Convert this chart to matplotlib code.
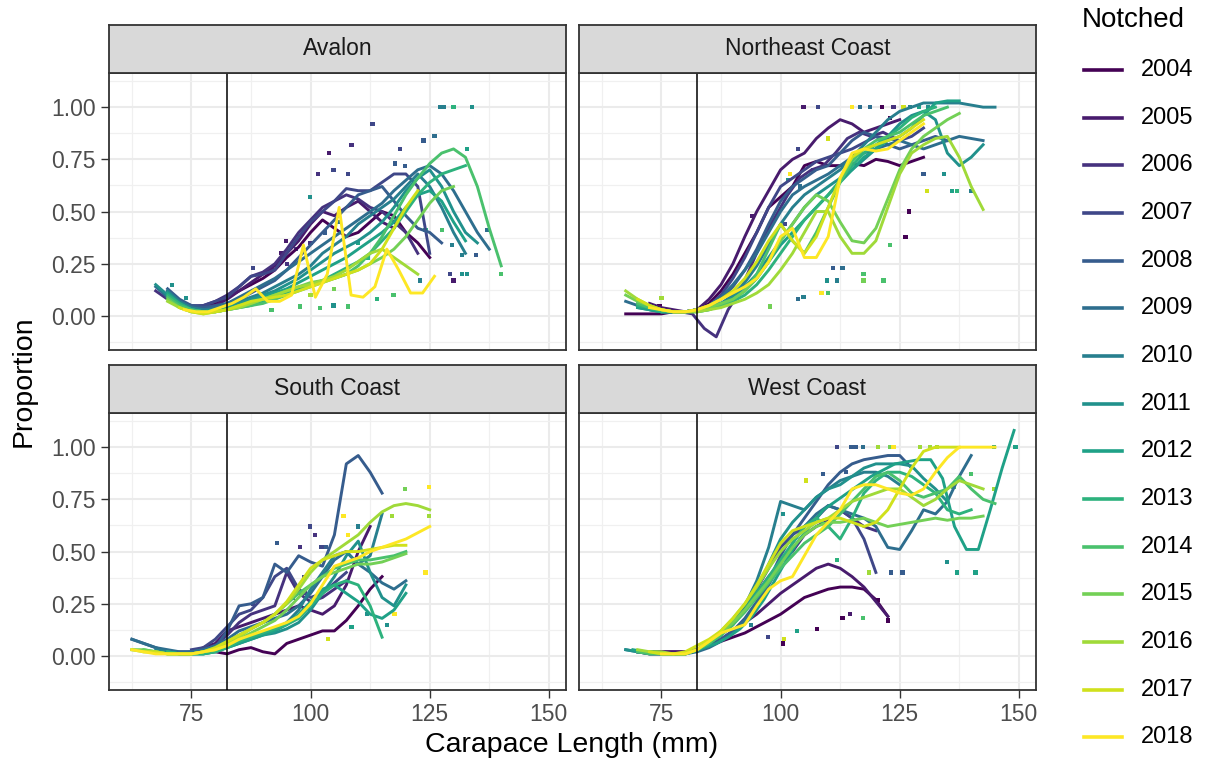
import numpy as np
import matplotlib
matplotlib.use("Agg")
import matplotlib.pyplot as plt
from matplotlib.lines import Line2D

plt.rcParams['font.family'] = ['Liberation Sans', 'DejaVu Sans']

years = list(range(2004, 2019))
legal_size = 82.5
step = 2.5  # mm between smoothed values

# ---- Avalon ----
avalon_start = [72.5, 70, 67.5, 70, 70, 67.5, 70, 67.5, 70, 70, 70, 70, 70, 72.5, 73.5]
avalon_vals = [
    [0.06, 0.04, 0.04, 0.06, 0.09, 0.12, 0.15, 0.18, 0.22, 0.28, 0.33, 0.40, 0.46, 0.42, 0.38, 0.40, 0.45, 0.50, 0.48, 0.40, 0.35, 0.28],
    [0.10, 0.06, 0.04, 0.04, 0.05, 0.08, 0.12, 0.16, 0.20, 0.24, 0.30, 0.36, 0.44, 0.50, 0.48, 0.52, 0.55, 0.50, 0.45, 0.42],
    [0.12, 0.08, 0.05, 0.04, 0.05, 0.07, 0.10, 0.14, 0.19, 0.21, 0.25, 0.32, 0.40, 0.46, 0.52, 0.55, 0.58, 0.56, 0.52, 0.50, 0.45, 0.40, 0.30],
    [0.12, 0.07, 0.05, 0.05, 0.07, 0.09, 0.14, 0.19, 0.20, 0.22, 0.30, 0.38, 0.45, 0.50, 0.55, 0.61, 0.60, 0.60, 0.64, 0.68, 0.68, 0.62, 0.30],
    [0.13, 0.08, 0.05, 0.04, 0.05, 0.06, 0.08, 0.11, 0.14, 0.17, 0.22, 0.28, 0.34, 0.40, 0.46, 0.52, 0.58, 0.60, 0.62, 0.55, 0.48, 0.42, 0.40, 0.35],
    [0.14, 0.09, 0.05, 0.03, 0.03, 0.04, 0.06, 0.09, 0.12, 0.15, 0.18, 0.22, 0.26, 0.30, 0.34, 0.38, 0.42, 0.46, 0.50, 0.54, 0.60, 0.65, 0.70, 0.72, 0.68, 0.60, 0.50, 0.40, 0.32],
    [0.12, 0.07, 0.04, 0.03, 0.03, 0.05, 0.07, 0.09, 0.11, 0.14, 0.17, 0.20, 0.24, 0.30, 0.34, 0.38, 0.44, 0.48, 0.52, 0.56, 0.62, 0.68, 0.62, 0.52, 0.40, 0.30],
    [0.15, 0.10, 0.06, 0.03, 0.02, 0.03, 0.04, 0.06, 0.08, 0.10, 0.12, 0.15, 0.18, 0.22, 0.26, 0.30, 0.33, 0.36, 0.40, 0.45, 0.52, 0.60, 0.66, 0.70, 0.62, 0.50, 0.40, 0.35],
    [0.11, 0.06, 0.03, 0.02, 0.03, 0.04, 0.05, 0.07, 0.09, 0.11, 0.13, 0.16, 0.19, 0.22, 0.25, 0.28, 0.32, 0.36, 0.40, 0.45, 0.52, 0.58, 0.60, 0.55, 0.45, 0.36],
    [0.10, 0.06, 0.03, 0.02, 0.02, 0.03, 0.04, 0.05, 0.07, 0.09, 0.11, 0.13, 0.15, 0.17, 0.20, 0.23, 0.26, 0.30, 0.36, 0.42, 0.50, 0.58, 0.64, 0.68, 0.70, 0.72],
    [0.09, 0.05, 0.03, 0.02, 0.02, 0.03, 0.04, 0.05, 0.06, 0.08, 0.10, 0.12, 0.14, 0.16, 0.18, 0.20, 0.24, 0.30, 0.38, 0.48, 0.58, 0.66, 0.73, 0.78, 0.80, 0.76, 0.62, 0.42, 0.24],
    [0.08, 0.04, 0.02, 0.02, 0.02, 0.03, 0.05, 0.06, 0.08, 0.10, 0.12, 0.14, 0.16, 0.17, 0.18, 0.20, 0.22, 0.25, 0.28, 0.32, 0.38, 0.46, 0.54, 0.60, 0.62],
    [0.07, 0.04, 0.02, 0.01, 0.02, 0.03, 0.04, 0.06, 0.08, 0.10, 0.12, 0.14, 0.15, 0.17, 0.19, 0.22, 0.26, 0.30, 0.32, 0.28, 0.24, 0.20],
    [0.04, 0.02, 0.01, 0.02, 0.03, 0.05, 0.07, 0.08, 0.09, 0.10, 0.12, 0.14, 0.16, 0.18, 0.20, 0.22, 0.25, 0.32, 0.42, 0.52, 0.60],
    [0.03, 0.02, 0.02, 0.04, 0.06, 0.09, 0.13, 0.07, 0.07, 0.10, 0.34, 0.09, 0.20, 0.52, 0.10, 0.09, 0.14, 0.32, 0.22, 0.11, 0.11, 0.19],
]
avalon_pts_x = [127.2, 128.0, 130.0, 133.9, 113.0, 103.9, 108.6, 126.0, 123.7, 118.8, 132.8, 101.6, 104.8, 107.8, 117.7,
                119.8, 99.8, 94.9, 93.9, 87.9, 91.8, 137.1, 134.8, 131.8, 129.7, 127.6, 124.1, 129.2, 130.0, 131.8, 132.8,
                139.9, 123.0, 117.4, 113.9, 107.9, 104.8, 102.0, 97.7, 91.8, 73.9, 70.9, 95.0, 97.0, 100.0, 103.0, 106.0,
                110.0, 112.0, 96.0, 100.0, 105.0, 88.0, 85.0]
avalon_pts_y = [1.0, 1.0, 1.0, 1.0, 0.92, 0.78, 0.82, 0.86, 0.84, 0.80, 0.80, 0.68, 0.70, 0.68, 0.73,
                0.72, 0.57, 0.36, 0.30, 0.23, 0.22, 0.41, 0.29, 0.29, 0.34, 0.41, 0.41, 0.20, 0.17, 0.20, 0.20,
                0.20, 0.17, 0.10, 0.08, 0.045, 0.05, 0.04, 0.045, 0.03, 0.085, 0.15, 0.25, 0.32, 0.35, 0.40, 0.45,
                0.35, 0.28, 0.12, 0.10, 0.13, 0.08, 0.07]
avalon_pts_year = [2010, 2010, 2013, 2011, 2007, 2005, 2006, 2009, 2008, 2007, 2012, 2006, 2007, 2007, 2008,
                   2008, 2011, 2005, 2005, 2007, 2007, 2009, 2008, 2010, 2010, 2014, 2013, 2007, 2005, 2011, 2011,
                   2014, 2010, 2014, 2013, 2014, 2011, 2014, 2014, 2014, 2011, 2011, 2006, 2007, 2006, 2008, 2009,
                   2012, 2013, 2015, 2016, 2015, 2012, 2013]

# ---- Northeast Coast ----
ne_start = [67.5, 72.5, 79, 70, 70, 67.5, 70, 70, 70, 70, 70, 67.5, 67.5, 70, 72.5]
ne_vals = [
    [0.01, 0.01, 0.01, 0.01, 0.02, 0.02, 0.03, 0.06, 0.12, 0.20, 0.30, 0.40, 0.52, 0.57, 0.62, 0.72, 0.74, 0.72, 0.72, 0.73, 0.72, 0.75, 0.74, 0.72, 0.74, 0.76],
    [0.06, 0.04, 0.03, 0.02, 0.03, 0.08, 0.15, 0.25, 0.38, 0.50, 0.60, 0.70, 0.75, 0.78, 0.85, 0.90, 0.94, 0.92, 0.88, 0.90, 0.92, 0.94],
    [0.02, 0.01, -0.06, -0.10, 0.03, 0.12, 0.25, 0.38, 0.48, 0.58, 0.66, 0.70, 0.72, 0.78, 0.85, 0.88, 0.86, 0.88, 0.85],
    [0.05, 0.04, 0.02, 0.02, 0.02, 0.03, 0.05, 0.10, 0.18, 0.28, 0.40, 0.52, 0.62, 0.66, 0.70, 0.74, 0.76, 0.78, 0.80, 0.83, 0.86, 0.85, 0.84, 0.86, 0.90],
    [0.06, 0.04, 0.03, 0.02, 0.02, 0.03, 0.04, 0.08, 0.14, 0.22, 0.32, 0.44, 0.55, 0.62, 0.66, 0.70, 0.72, 0.78, 0.84, 0.88, 0.86, 0.82, 0.80, 0.82, 0.84, 0.86, 0.84],
    [0.07, 0.05, 0.03, 0.02, 0.02, 0.02, 0.03, 0.05, 0.09, 0.15, 0.22, 0.30, 0.40, 0.50, 0.58, 0.62, 0.65, 0.68, 0.72, 0.76, 0.78, 0.80, 0.82, 0.84, 0.82, 0.80, 0.82, 0.84, 0.86, 0.85, 0.84],
    [0.05, 0.04, 0.02, 0.02, 0.02, 0.03, 0.04, 0.06, 0.10, 0.16, 0.24, 0.34, 0.44, 0.52, 0.58, 0.62, 0.66, 0.70, 0.76, 0.82, 0.88, 0.94, 0.98, 1.00, 1.02, 1.02, 1.02, 1.02, 1.01, 1.00, 1.00],
    [0.04, 0.03, 0.02, 0.02, 0.02, 0.03, 0.04, 0.06, 0.09, 0.14, 0.20, 0.28, 0.36, 0.44, 0.52, 0.58, 0.62, 0.66, 0.70, 0.75, 0.80, 0.86, 0.92, 0.96, 0.98, 0.94, 0.78, 0.72, 0.76, 0.82],
    [0.04, 0.03, 0.02, 0.02, 0.02, 0.03, 0.04, 0.05, 0.08, 0.12, 0.18, 0.26, 0.34, 0.40, 0.46, 0.52, 0.58, 0.64, 0.70, 0.76, 0.80, 0.84, 0.86, 0.90, 0.96, 1.02, 1.03, 1.03],
    [0.05, 0.04, 0.02, 0.02, 0.02, 0.02, 0.03, 0.05, 0.07, 0.10, 0.15, 0.22, 0.30, 0.38, 0.46, 0.52, 0.58, 0.65, 0.72, 0.78, 0.82, 0.86, 0.90, 0.95, 0.98, 1.00],
    [0.06, 0.04, 0.03, 0.02, 0.02, 0.02, 0.03, 0.05, 0.08, 0.12, 0.20, 0.32, 0.44, 0.36, 0.30, 0.40, 0.52, 0.64, 0.74, 0.80, 0.84, 0.86, 0.88, 0.92, 0.96, 0.98, 1.00],
    [0.10, 0.07, 0.05, 0.03, 0.02, 0.02, 0.03, 0.04, 0.06, 0.08, 0.12, 0.18, 0.26, 0.36, 0.44, 0.52, 0.58, 0.55, 0.45, 0.36, 0.35, 0.42, 0.56, 0.70, 0.80, 0.86, 0.90, 0.94, 0.97],
    [0.12, 0.08, 0.05, 0.03, 0.02, 0.02, 0.02, 0.03, 0.04, 0.06, 0.08, 0.11, 0.15, 0.22, 0.30, 0.40, 0.50, 0.50, 0.38, 0.30, 0.30, 0.36, 0.52, 0.68, 0.78, 0.82, 0.85, 0.86, 0.76, 0.62, 0.51],
    [0.08, 0.05, 0.03, 0.02, 0.02, 0.03, 0.05, 0.08, 0.12, 0.18, 0.26, 0.36, 0.44, 0.36, 0.30, 0.38, 0.52, 0.66, 0.76, 0.80, 0.82, 0.84, 0.86, 0.90, 0.94],
    [0.04, 0.03, 0.02, 0.02, 0.03, 0.05, 0.08, 0.11, 0.14, 0.18, 0.26, 0.38, 0.42, 0.28, 0.28, 0.38, 0.66, 0.78, 0.80, 0.79, 0.80, 0.84, 0.88, 0.92],
]
ne_pts_x = [104.8, 107.9, 115.0, 116.6, 118.8, 121.2, 123.7, 125.8, 127.2, 129.0, 131.0,
            123.0, 103.7, 110.0, 106.9, 104.1, 102.0, 101.6, 94.1, 100.9,
            126.9, 126.2, 123.0, 136.0, 137.0, 139.9, 130.7, 134.3, 130.0,
            111.0, 113.0, 109.7, 111.8, 117.4, 117.4, 121.6,
            108.6, 110.0, 103.7, 104.8, 97.7, 74.6, 75.0]
ne_pts_y = [1, 1, 1, 1, 1, 1, 1, 1, 1, 1, 1,
            0.95, 0.80, 0.85, 0.70, 0.62, 0.68, 0.65, 0.48, 0.44,
            0.50, 0.38, 0.34, 0.60, 0.60, 0.60, 0.60, 0.68, 0.68,
            0.23, 0.23, 0.17, 0.17, 0.20, 0.17, 0.17,
            0.11, 0.11, 0.08, 0.09, 0.045, 0.045, 0.085]
ne_pts_year = [2005, 2007, 2018, 2009, 2009, 2004, 2006, 2017, 2010, 2012, 2011,
               2004, 2007, 2017, 2010, 2009, 2018, 2011, 2005, 2007,
               2004, 2004, 2014, 2012, 2013, 2010, 2017, 2011, 2008,
               2008, 2009, 2011, 2010, 2014, 2015, 2014,
               2018, 2014, 2009, 2010, 2015, 2004, 2016]

# ---- South Coast ----
south_start = [80, 77.5, 72.5, 75, 62.5, 62.5, 67.5, 67.5, 70, 70, 65, 62.5, 62.5, 65, 62.5]
south_vals = [
    [0.02, 0.01, 0.03, 0.04, 0.02, 0.01, 0.06, 0.08, 0.10, 0.12, 0.12, 0.17, 0.24, 0.32, 0.38],
    [0.04, 0.06, 0.12, 0.14, 0.16, 0.18, 0.20, 0.22, 0.24, 0.22, 0.20, 0.24, 0.34, 0.50, 0.62],
    [0.02, 0.02, 0.03, 0.05, 0.10, 0.16, 0.20, 0.22, 0.24, 0.40, 0.30, 0.26, 0.28, 0.32, 0.36],
    [0.03, 0.04, 0.08, 0.14, 0.20, 0.22, 0.28, 0.38, 0.42, 0.32, 0.28, 0.30, 0.35, 0.40],
    [0.08, 0.06, 0.04, 0.02, 0.01, 0.02, 0.03, 0.04, 0.12, 0.24, 0.25, 0.28, 0.44, 0.40, 0.48, 0.45, 0.43, 0.58, 0.92, 0.96, 0.88, 0.78],
    [0.08, 0.06, 0.04, 0.03, 0.02, 0.02, 0.03, 0.05, 0.08, 0.12, 0.14, 0.16, 0.18, 0.20, 0.24, 0.30, 0.38, 0.46, 0.50, 0.44, 0.40, 0.35, 0.32, 0.36],
    [0.03, 0.02, 0.01, 0.01, 0.02, 0.03, 0.05, 0.07, 0.09, 0.11, 0.13, 0.16, 0.22, 0.32, 0.40, 0.48, 0.50, 0.44, 0.48, 0.68],
    [0.02, 0.02, 0.01, 0.01, 0.01, 0.02, 0.04, 0.06, 0.08, 0.10, 0.11, 0.13, 0.16, 0.22, 0.30, 0.38, 0.48, 0.55, 0.40, 0.28, 0.24, 0.34],
    [0.02, 0.01, 0.01, 0.01, 0.02, 0.04, 0.06, 0.08, 0.10, 0.12, 0.15, 0.20, 0.26, 0.32, 0.34, 0.30, 0.26, 0.20, 0.18, 0.22, 0.30],
    [0.02, 0.01, 0.01, 0.01, 0.02, 0.04, 0.07, 0.09, 0.11, 0.13, 0.15, 0.18, 0.24, 0.30, 0.34, 0.36, 0.34, 0.24, 0.09],
    [0.03, 0.02, 0.01, 0.01, 0.01, 0.02, 0.04, 0.07, 0.10, 0.13, 0.16, 0.20, 0.25, 0.30, 0.34, 0.38, 0.42, 0.44, 0.46, 0.46, 0.47, 0.48, 0.50],
    [0.03, 0.03, 0.02, 0.01, 0.01, 0.01, 0.02, 0.03, 0.05, 0.08, 0.11, 0.14, 0.17, 0.22, 0.28, 0.34, 0.38, 0.40, 0.42, 0.44, 0.44, 0.45, 0.47, 0.49],
    [0.03, 0.02, 0.02, 0.01, 0.01, 0.01, 0.02, 0.03, 0.06, 0.09, 0.13, 0.16, 0.20, 0.25, 0.32, 0.40, 0.46, 0.50, 0.54, 0.58, 0.64, 0.69, 0.72, 0.73, 0.72, 0.70],
    [0.02, 0.02, 0.01, 0.01, 0.01, 0.02, 0.04, 0.07, 0.10, 0.13, 0.16, 0.20, 0.26, 0.34, 0.42, 0.46, 0.48, 0.50, 0.50, 0.51, 0.52, 0.53, 0.53],
    [0.03, 0.02, 0.01, 0.01, 0.01, 0.01, 0.02, 0.03, 0.05, 0.08, 0.10, 0.12, 0.14, 0.16, 0.19, 0.25, 0.34, 0.43, 0.45, 0.47, 0.50, 0.52, 0.54, 0.56, 0.59, 0.62],
]
south_pts_x = [99.8, 100.9, 93.0, 88.0, 97.7, 102.3, 103.3, 110.0, 106.9, 107.9, 117.1, 119.9, 124.8, 124.8,
               124.1, 117.6, 111.8, 116.0, 108.6, 103.7, 98.6, 98.8, 96.3]
south_pts_y = [0.62, 0.58, 0.54, 0.25, 0.52, 0.52, 0.52, 0.62, 0.67, 0.58, 0.67, 0.80, 0.81, 0.67,
               0.40, 0.20, 0.20, 0.15, 0.14, 0.08, 0.38, 0.30, 0.28]
south_pts_year = [2007, 2006, 2008, 2007, 2006, 2007, 2008, 2010, 2018, 2018, 2016, 2015, 2018, 2016,
                  2018, 2018, 2011, 2011, 2012, 2017, 2007, 2006, 2008]

# ---- West Coast ----
west_start = [70, 72.5, 70, 70, 70, 70, 67.5, 67.5, 69, 70, 70, 72.5, 70, 72.5, 75]
west_vals = [
    [0.02, 0.02, 0.02, 0.02, 0.02, 0.03, 0.05, 0.07, 0.09, 0.11, 0.14, 0.17, 0.20, 0.24, 0.28, 0.30, 0.32, 0.33, 0.33, 0.32, 0.27, 0.19],
    [0.02, 0.02, 0.02, 0.02, 0.03, 0.05, 0.08, 0.12, 0.16, 0.20, 0.25, 0.30, 0.34, 0.38, 0.42, 0.44, 0.42, 0.38, 0.33, 0.26, 0.19],
    [0.02, 0.02, 0.01, 0.01, 0.01, 0.03, 0.06, 0.10, 0.15, 0.22, 0.30, 0.38, 0.45, 0.50, 0.58, 0.62, 0.65, 0.70, 0.66, 0.62, 0.60],
    [0.02, 0.01, 0.01, 0.01, 0.01, 0.03, 0.06, 0.10, 0.16, 0.24, 0.32, 0.42, 0.52, 0.58, 0.62, 0.66, 0.72, 0.70, 0.66, 0.56, 0.40],
    [0.02, 0.01, 0.01, 0.01, 0.01, 0.03, 0.05, 0.08, 0.12, 0.18, 0.26, 0.36, 0.48, 0.58, 0.66, 0.74, 0.82, 0.88, 0.92, 0.94, 0.95, 0.96, 0.96, 0.90],
    [0.02, 0.01, 0.01, 0.01, 0.01, 0.02, 0.04, 0.07, 0.11, 0.17, 0.25, 0.34, 0.44, 0.54, 0.62, 0.68, 0.72, 0.70, 0.68, 0.66, 0.62, 0.52, 0.51, 0.60, 0.70, 0.68, 0.74, 0.86, 0.96],
    [0.03, 0.02, 0.02, 0.01, 0.01, 0.01, 0.03, 0.06, 0.10, 0.16, 0.24, 0.36, 0.52, 0.74, 0.72, 0.70, 0.76, 0.80, 0.84, 0.86, 0.88, 0.88, 0.86, 0.82],
    [0.03, 0.02, 0.02, 0.01, 0.01, 0.01, 0.03, 0.06, 0.10, 0.15, 0.22, 0.32, 0.44, 0.56, 0.64, 0.70, 0.76, 0.80, 0.82, 0.86, 0.90, 0.92, 0.92, 0.92, 0.91, 0.85, 0.80, 0.74],
    [0.03, 0.02, 0.02, 0.01, 0.01, 0.02, 0.04, 0.06, 0.09, 0.13, 0.19, 0.27, 0.37, 0.47, 0.56, 0.63, 0.70, 0.74, 0.78, 0.82, 0.86, 0.89, 0.92, 0.93, 0.94, 0.94, 0.85, 0.62, 0.51, 0.51, 0.70, 0.90, 1.08],
    [0.02, 0.02, 0.01, 0.01, 0.01, 0.03, 0.06, 0.10, 0.16, 0.22, 0.30, 0.38, 0.46, 0.54, 0.62, 0.66, 0.62, 0.56, 0.66, 0.78, 0.84, 0.88, 0.88, 0.86, 0.82, 0.78, 0.70, 0.68, 0.70],
    [0.02, 0.01, 0.01, 0.01, 0.01, 0.03, 0.06, 0.10, 0.15, 0.21, 0.28, 0.35, 0.42, 0.48, 0.54, 0.58, 0.62, 0.68, 0.74, 0.80, 0.86, 0.88, 0.84, 0.78, 0.76, 0.78, 0.80, 0.86, 0.80, 0.75, 0.73],
    [0.02, 0.01, 0.01, 0.01, 0.03, 0.07, 0.11, 0.16, 0.22, 0.29, 0.36, 0.44, 0.52, 0.58, 0.62, 0.64, 0.64, 0.65, 0.66, 0.64, 0.62, 0.63, 0.64, 0.65, 0.66, 0.65, 0.66, 0.66, 0.67],
    [0.03, 0.02, 0.02, 0.01, 0.01, 0.03, 0.07, 0.12, 0.18, 0.25, 0.33, 0.42, 0.50, 0.56, 0.60, 0.64, 0.66, 0.70, 0.74, 0.76, 0.78, 0.80, 0.80, 0.76, 0.72, 0.75, 0.80, 0.84, 0.82, 0.80],
    [0.02, 0.01, 0.01, 0.02, 0.05, 0.08, 0.12, 0.18, 0.25, 0.34, 0.44, 0.54, 0.60, 0.62, 0.64, 0.66, 0.66, 0.64, 0.62, 0.64, 0.70, 0.80, 0.90, 0.98, 1.00, 1.00, 1.00],
    [0.01, 0.01, 0.01, 0.03, 0.07, 0.11, 0.13, 0.15, 0.24, 0.32, 0.36, 0.38, 0.48, 0.58, 0.64, 0.70, 0.80, 0.82, 0.82, 0.80, 0.78, 0.77, 0.80, 0.88, 0.95, 1.00, 1.00, 1.00, 1.00],
]
west_pts_x = [111.8, 114.9, 115.9, 117.3, 120.5, 123.0, 123.7, 129.3, 131.4, 132.8, 144.7, 149.3,
              134.9, 137.0, 140.9, 123.2, 125.6, 120.4, 122.5, 117.3, 113.0, 114.6,
              107.7, 103.5, 100.5, 100.8, 97.4, 93.8,
              105.4, 108.9, 113.8, 119.8, 139.9, 144.7, 136.3, 118.6, 111.8, 100.5]
west_pts_y = [1, 1, 1, 1, 1, 1, 1, 1, 1, 1, 1, 1,
              0.45, 0.40, 0.40, 0.40, 0.40, 0.27, 0.17, 0.18, 0.18, 0.20,
              0.13, 0.12, 0.06, 0.08, 0.09, 0.15,
              0.84, 0.87, 0.88, 0.87, 0.87, 0.80, 0.81, 0.40, 0.46, 0.68]
west_pts_year = [2007, 2008, 2008, 2009, 2016, 2015, 2018, 2016, 2016, 2016, 2012, 2012,
                 2011, 2012, 2012, 2008, 2008, 2004, 2004, 2014, 2004, 2005,
                 2004, 2012, 2004, 2017, 2007, 2010,
                 2017, 2008, 2008, 2013, 2014, 2016, 2014, 2016, 2013, 2011]

panels = [
    ('Avalon', avalon_start, avalon_vals, avalon_pts_x, avalon_pts_y, avalon_pts_year),
    ('Northeast Coast', ne_start, ne_vals, ne_pts_x, ne_pts_y, ne_pts_year),
    ('South Coast', south_start, south_vals, south_pts_x, south_pts_y, south_pts_year),
    ('West Coast', west_start, west_vals, west_pts_x, west_pts_y, west_pts_year),
]

colors = dict(zip(years, plt.cm.viridis(np.linspace(0, 1, len(years)))))

W, H = 1207, 770
fig = plt.figure(figsize=(W / 100, H / 100), dpi=100)

pw, ph, sh = 457, 277.5, 47.5
lefts = [109, 579]
tops = [72.5, 412.5]

for k, (name, starts, vals, px, py, pyear) in enumerate(panels):
    row, colm = divmod(k, 2)
    l, t = lefts[colm], tops[row]
    ax = fig.add_axes([l / W, 1 - (t + ph) / H, pw / W, ph / H])
    ax.set_xlim(57.7, 153.6)
    ax.set_ylim(-0.163, 1.166)
    ax.set_xticks([75, 100, 125, 150])
    ax.set_xticks([62.5, 87.5, 112.5, 137.5], minor=True)
    ax.set_yticks([0, 0.25, 0.5, 0.75, 1.0])
    ax.set_yticklabels(['0.00', '0.25', '0.50', '0.75', '1.00'])
    ax.set_yticks([-0.125, 0.125, 0.375, 0.625, 0.875, 1.125], minor=True)
    ax.grid(which='major', color='#ebebeb', lw=1.5)
    ax.grid(which='minor', color='#f0f0f0', lw=0.9)
    ax.set_axisbelow(True)
    ax.tick_params(which='minor', length=0)
    ax.tick_params(which='major', length=5.5, width=1.0, color='#333333',
                   labelsize=16.5, labelcolor='#4d4d4d', pad=4)
    if colm == 1:
        ax.tick_params(axis='y', left=False, labelleft=False)
    if row == 0:
        ax.tick_params(axis='x', bottom=False, labelbottom=False)
    for s in ax.spines.values():
        s.set_color('#333333')
        s.set_linewidth(1.3)

    ax.scatter(px, py, c=[colors[y] for y in pyear], marker='s', s=9, linewidths=0, zorder=2)
    for yr, x0, v in zip(years, starts, vals):
        xs = [x0 + step * i for i in range(len(v))]
        ax.plot(xs, v, color=colors[yr], lw=2.1, zorder=3)
    ax.axvline(legal_size, color='black', lw=1.1, zorder=4)

    sa = fig.add_axes([l / W, 1 - t / H, pw / W, sh / H])
    sa.set_facecolor('#d9d9d9')
    sa.set_xticks([])
    sa.set_yticks([])
    for s in sa.spines.values():
        s.set_color('#333333')
        s.set_linewidth(1.3)
    sa.text(0.5, 0.5, name, ha='center', va='center', fontsize=16.5, color='#1a1a1a',
            transform=sa.transAxes)

fig.text(572 / W, 1 - 745 / H, 'Carapace Length (mm)', ha='center', va='center', fontsize=20.5)
fig.text(24 / W, 1 - 381 / H, 'Proportion', ha='center', va='center', rotation=90, fontsize=20.5)

# legend
fig.text(1082 / W, 1 - 20 / H, 'Notched', ha='left', va='center', fontsize=20)
for i, yr in enumerate(years):
    yy = 1 - (70 + i * 47.66) / H
    fig.add_artist(Line2D([1084 / W, 1122 / W], [yy, yy], color=colors[yr], lw=2.6,
                          transform=fig.transFigure))
    fig.text(1141 / W, yy, str(yr), ha='left', va='center', fontsize=17)

fig.savefig('out.png', dpi=100)
